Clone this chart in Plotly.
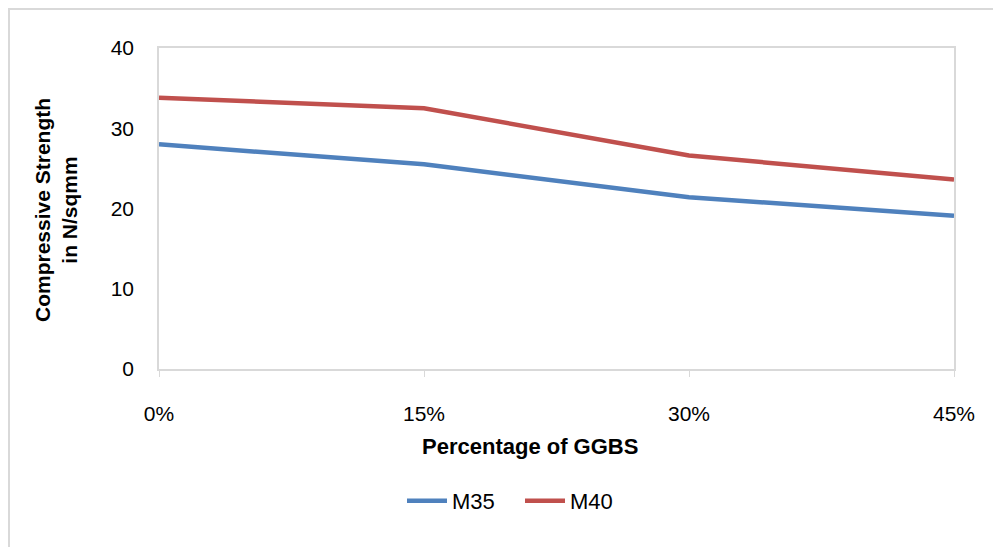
import plotly.graph_objects as go

# percentage of GGBS replacement
ggbs = [0, 15, 30, 45]
ggbs_labels = ["0%", "15%", "30%", "45%"]
m35 = [28.0, 25.5, 21.4, 19.1]
m40 = [33.8, 32.5, 26.6, 23.6]

W, H = 1001, 547
OFF = 8  # page body margin
# wanted plot box on screen: x 159..954, y 48..369
L, R, T, B = 159 - OFF, W - 954 + OFF, 48 - OFF, H - 369 + OFF
pw, ph = W - L - R, H - T - B


def px_x(x):
    return (x - OFF - L) / pw


def px_y(y):
    return (H - B - (y - OFF)) / ph


fig = go.Figure()
fig.add_trace(go.Scatter(x=ggbs, y=m35, name="M35", mode="lines",
                         line=dict(color="#4F81BD", width=4.5)))
fig.add_trace(go.Scatter(x=ggbs, y=m40, name="M40", mode="lines",
                         line=dict(color="#C0504D", width=4.5)))

fig.update_layout(
    width=W, height=H,
    margin=dict(l=L, r=R, t=T, b=B),
    paper_bgcolor="white", plot_bgcolor="white",
    font=dict(family="Liberation Sans, Arial", size=21, color="black"),
    showlegend=True,
    legend=dict(orientation="h", x=px_x(520), y=px_y(501),
                xanchor="center", yanchor="middle",
                font=dict(size=22), itemwidth=40, entrywidth=63, tracegroupgap=0),
)
fig.update_xaxes(range=[0, 45], tickmode="array", tickvals=ggbs, ticktext=ggbs_labels,
                 showgrid=False, zeroline=False,
                 showline=True, mirror=True, linecolor="#d9d9d9", linewidth=1.5,
                 ticks="outside", ticklen=6, tickcolor="#d9d9d9",
                 ticklabelstandoff=19)
fig.update_yaxes(range=[0, 40], dtick=10,
                 showgrid=False, zeroline=False,
                 showline=True, mirror=True, linecolor="#d9d9d9", linewidth=1.5,
                 ticks="", ticklabelstandoff=19)

fig.add_annotation(text="<b>Percentage of GGBS</b>", xref="paper", yref="paper",
                   x=px_x(530), y=px_y(446), showarrow=False,
                   xanchor="center", yanchor="middle", font=dict(size=22))
fig.add_annotation(text="<b>Compressive Strength<br>in N/sqmm</b>",
                   xref="paper", yref="paper", textangle=-90,
                   x=px_x(56), y=px_y(210), showarrow=False,
                   xanchor="center", yanchor="middle", font=dict(size=21))

# outer chart frame
fig.add_shape(type="rect", xref="paper", yref="paper",
              x0=px_x(9), y0=px_y(600), x1=px_x(1100), y1=px_y(9),
              line=dict(color="#d9d9d9", width=2), layer="below")

fig.write_html("out.html")
